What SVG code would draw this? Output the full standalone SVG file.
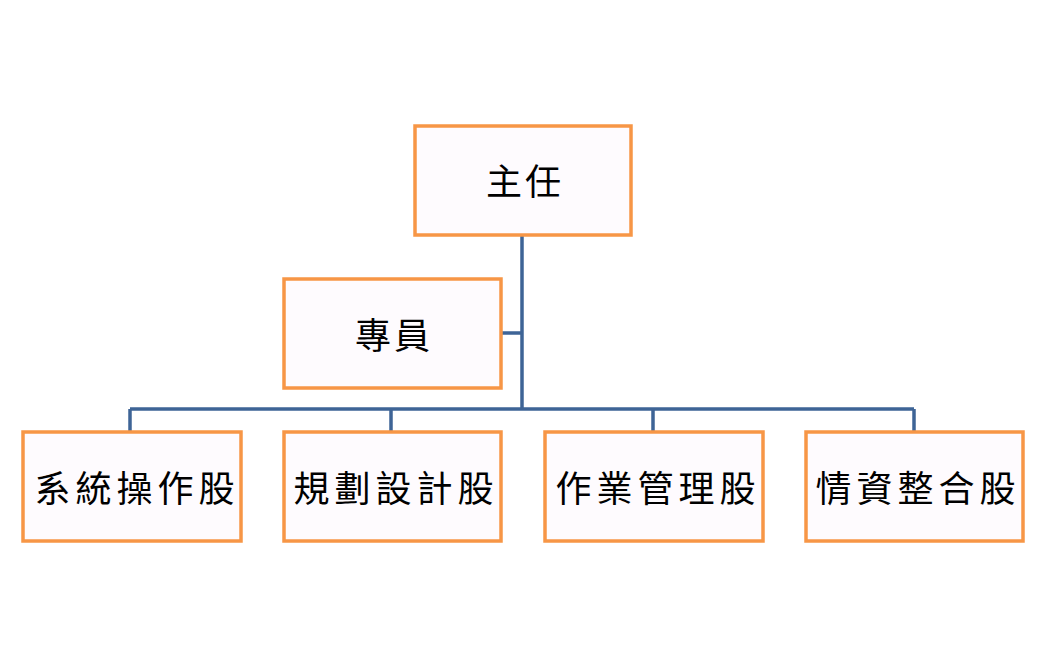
<svg xmlns="http://www.w3.org/2000/svg" width="1046" height="667" viewBox="0 0 1046 667">
<style>
.box{fill:#FEFBFE;stroke:#F79646;stroke-width:3.5}
.lbl{font-family:"Noto Sans CJK TC","Noto Sans CJK SC",sans-serif;font-size:36px;fill:#000;text-anchor:middle;dominant-baseline:central;letter-spacing:3px}
.wide{letter-spacing:5px}
.con{stroke:#3E6496;stroke-width:3.5;fill:none}
</style>
<rect width="1046" height="667" fill="#fff"/>
<g id="connectors">
<path class="con" d="M522 235V409M501 333H522M130 409H914M130 409V432M391 409V432M653 409V432M914 409V432"/>
</g>
<g id="n-director"><rect class="box" x="415" y="126" width="216" height="109"/><text class="lbl" x="525" y="179">主任</text></g>
<g id="n-specialist"><rect class="box" x="284" y="279" width="217" height="109"/><text class="lbl" x="394" y="333">專員</text></g>
<g id="n-sysop"><rect class="box" x="23" y="432" width="218" height="109"/><text class="lbl wide" x="137" y="486">系統操作股</text></g>
<g id="n-plan"><rect class="box" x="284" y="432" width="217" height="109"/><text class="lbl wide" x="396" y="486">規劃設計股</text></g>
<g id="n-ops"><rect class="box" x="545" y="432" width="218" height="109"/><text class="lbl wide" x="658" y="486">作業管理股</text></g>
<g id="n-intel"><rect class="box" x="806" y="432" width="217" height="109"/><text class="lbl wide" x="918" y="486">情資整合股</text></g>
</svg>
